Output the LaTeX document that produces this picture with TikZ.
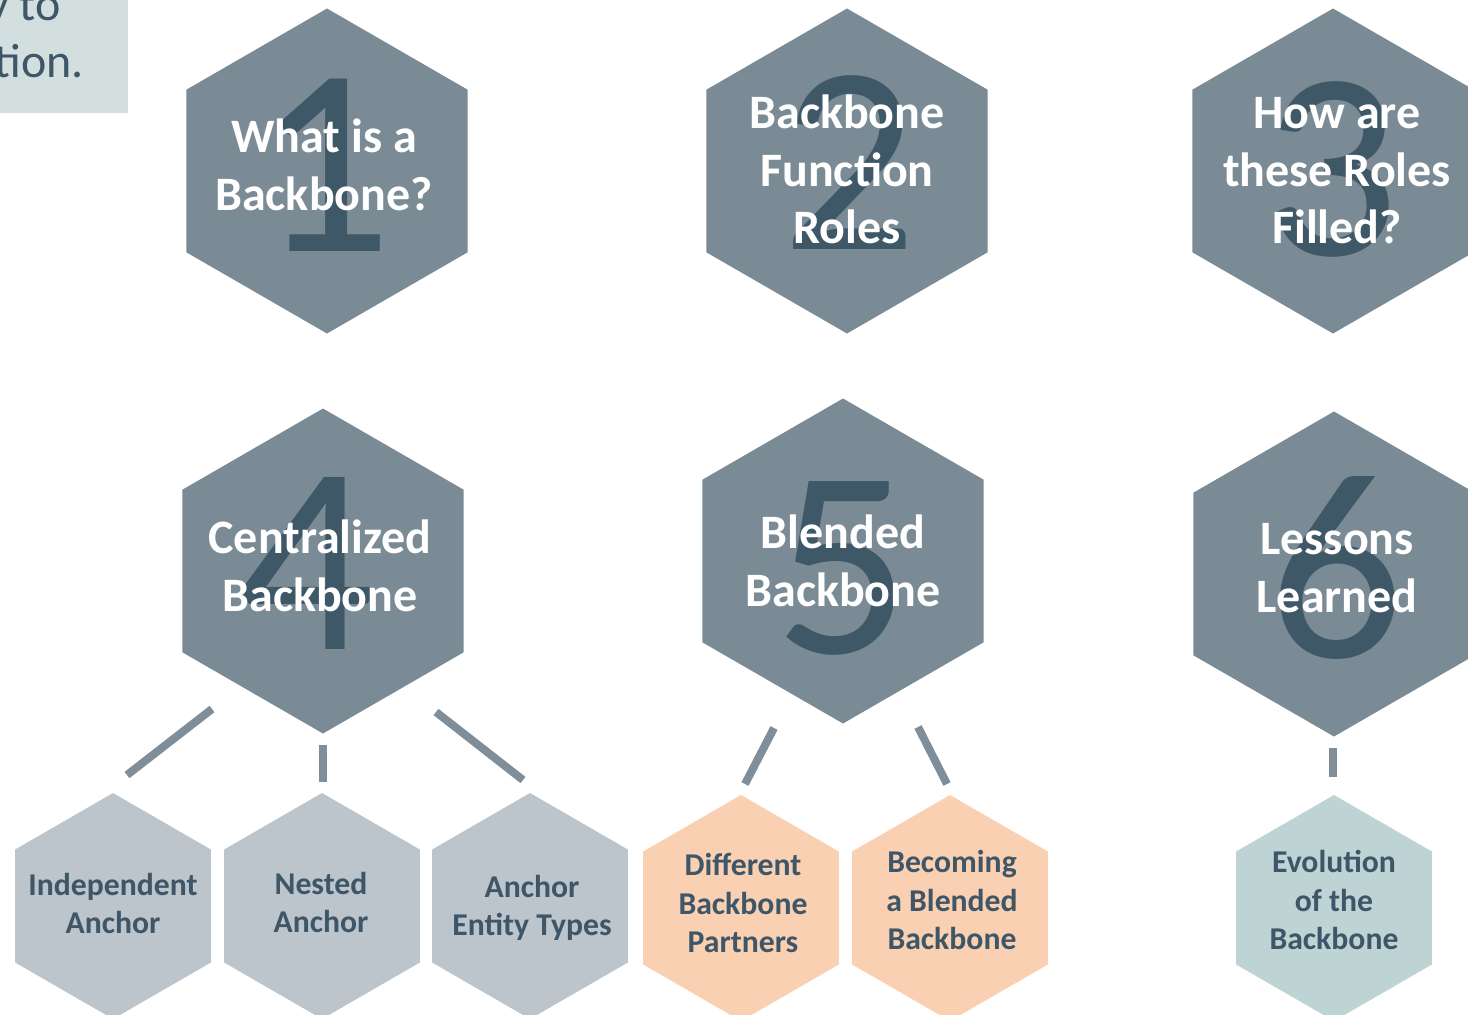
\documentclass[tikz,border=0pt]{standalone}
\usepackage{fontspec}
\setmainfont{Carlito}
\usetikzlibrary{shapes.geometric,calc}

\definecolor{hexdark}{HTML}{7B8B96}
\definecolor{numdark}{HTML}{3F5868}
\definecolor{hexgray}{HTML}{BCC5CB}
\definecolor{hexpeach}{HTML}{F9D1B2}
\definecolor{hexteal}{HTML}{BDD3D4}
\definecolor{inktext}{HTML}{3E5667}
\definecolor{linkgray}{HTML}{7F8E99}
\definecolor{introfill}{HTML}{D3DFDF}

% line strut: keeps every text line the same height and depth
\newcommand\ls{\rule[-0.16em]{0pt}{0.96em}}

\tikzset{
  hexbase/.style={regular polygon, regular polygon sides=6, shape border rotate=30,
    inner sep=0pt, outer sep=0pt},
  bighex/.style={hexbase, minimum size=325pt, fill=hexdark},
  smallhex/.style={hexbase, minimum size=226pt},
  numeral/.style={text=numdark, inner sep=0pt, font=\fontsize{268}{268}\selectfont},
  bigtitle/.style={text=white, align=center, inner sep=0pt,
    font=\fontsize{48}{57.5}\selectfont\bfseries},
  smalltitle/.style={text=inktext, align=center, inner sep=0pt,
    font=\fontsize{31.7}{38.3}\selectfont\bfseries},
  introtext/.style={text=inktext, inner sep=0pt, anchor=base east,
    font=\fontsize{48}{57}\selectfont},
  link/.style={draw=linkgray, line width=8pt},
}

\begin{document}
\begin{tikzpicture}[x=1pt, y=-1pt]
\useasboundingbox (0,0) rectangle (1468,1015);

% intro panel, cut by the page edge
\node[fill=introfill, minimum width=128pt, minimum height=113pt, inner sep=0pt,
      anchor=north west] (intro) at (0,0) {};
\node[introtext] (introA) at (61,20) {y to};
\node[introtext] (introB) at (84,77) {tion.};

% main topics
\node[bighex] (h1) at (327,171) {};
\node[bighex] (h2) at (847,171) {};
\node[bighex] (h3) at (1333,171) {};
\node[bighex] (h4) at (323,571) {};
\node[bighex] (h5) at (843,561) {};
\node[bighex] (h6) at (1334,574) {};

\node[numeral] (n1) at (324,165) {1};
\node[numeral] (n2) at (849,163) {2};
\node[numeral] (n3) at (1331,169) {3};
\node[numeral] (n4) at (306,563) {4};
\node[numeral] (n5) at (842,568) {5};
\node[numeral] (n6) at (1336,568) {6};

\node[bigtitle] (t1) at (324,166) {\ls What is a\\\ls Backbone?};
\node[bigtitle] (t2) at (847,171) {\ls Backbone\\\ls Function\\\ls Roles};
\node[bigtitle] (t3) at (1337,171) {\ls How are\\\ls these Roles\\\ls Filled?};
\node[bigtitle] (t4) at (320,567) {\ls Centralized\\\ls Backbone};
\node[bigtitle] (t5) at (843,562) {\ls Blended\\\ls Backbone};
\node[bigtitle] (t6) at (1337,568) {\ls Lessons\\\ls Learned};

% sub-topics
\node[smallhex, fill=hexgray] (s1) at (113,906) {};
\node[smallhex, fill=hexgray] (s2) at (322,906) {};
\node[smallhex, fill=hexgray] (s3) at (530,906) {};
\node[smallhex, fill=hexpeach] (s4) at (741,908) {};
\node[smallhex, fill=hexpeach] (s5) at (950,908) {};
\node[smallhex, fill=hexteal] (s6) at (1334,908) {};

\node[smalltitle] (u1) at (113,904) {\ls Independent\\\ls Anchor};
\node[smalltitle] (u2) at (321,903) {\ls Nested\\\ls Anchor};
\node[smalltitle] (u3) at (532,906) {\ls Anchor\\\ls Entity Types};
\node[smalltitle] (u4) at (743,904) {\ls Different\\\ls Backbone\\\ls Partners};
\node[smalltitle] (u5) at (952,901) {\ls Becoming\\\ls a Blended\\\ls Backbone};
\node[smalltitle] (u6) at (1334,901) {\ls Evolution\\\ls of the\\\ls Backbone};

% connectors between topics and sub-topics
\draw[link] ($(h4.center)+(-111,138)$) -- ($(s1.center)+(14,-131)$);
\draw[link] ($(h4.center)+(0,174)$) -- ($(s2.center)+(1,-124)$);
\draw[link] ($(h4.center)+(113,141)$) -- ($(s3.center)+(-7,-126)$);
\draw[link] ($(h5.center)+(-69,167)$) -- ($(s4.center)+(4,-124)$);
\draw[link] ($(h5.center)+(75,166)$) -- ($(s5.center)+(-3,-124)$);
\draw[link] ($(h6.center)+(-1,174)$) -- ($(s6.center)+(-1,-131)$);
\end{tikzpicture}
\end{document}
